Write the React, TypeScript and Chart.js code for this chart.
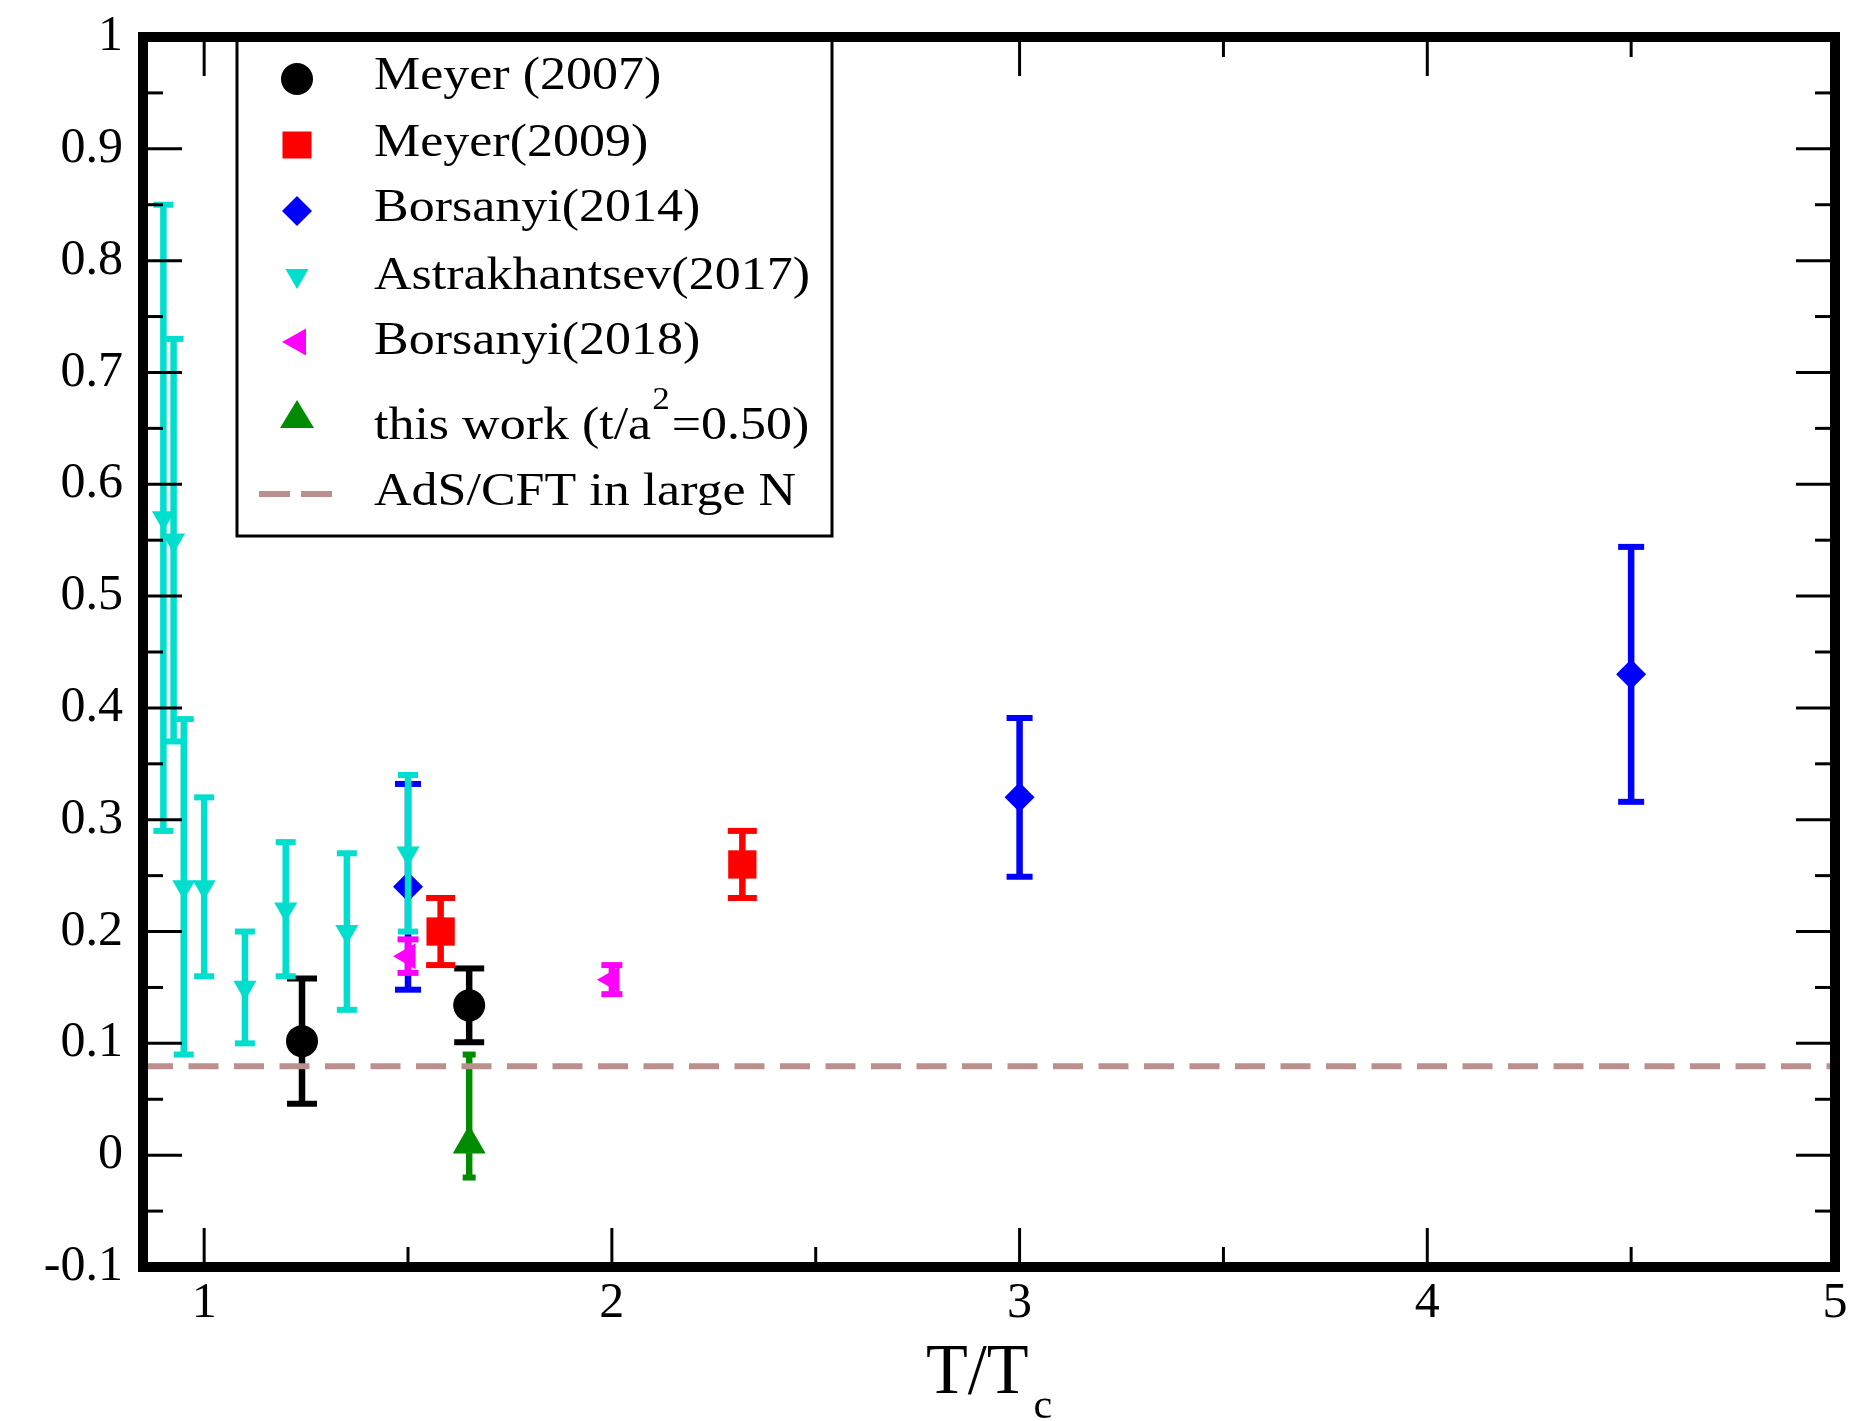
import React, { useEffect, useRef } from 'react';
import { Chart, registerables } from 'chart.js';

Chart.register(...registerables);

const FONT = '"Liberation Serif", "Times New Roman", serif';

// ---- data ----
const meyer2007X = [1.24, 1.65];
const meyer2007Y = [0.102, 0.134];
const meyer2007Err = [0.056, 0.033];

const meyer2009X = [1.58, 2.32];
const meyer2009Y = [0.2, 0.26];
const meyer2009Err = [0.03, 0.03];

const borsanyi2014X = [1.5, 3.0, 4.5];
const borsanyi2014Y = [0.24, 0.32, 0.43];
const borsanyi2014Err = [0.092, 0.071, 0.114];

const astrakhantsevX = [0.9, 0.925, 0.95, 1.0, 1.1, 1.2, 1.35, 1.5];
const astrakhantsevY = [0.57, 0.55, 0.24, 0.24, 0.15, 0.22, 0.2, 0.27];
const astrakhantsevErr = [0.28, 0.18, 0.15, 0.08, 0.05, 0.06, 0.07, 0.07];

const borsanyi2018X = [1.5, 2.0];
const borsanyi2018Y = [0.178, 0.157];
const borsanyi2018Err = [0.015, 0.013];

const thisWorkX = [1.65];
const thisWorkY = [0.01];
const thisWorkErrUp = [0.08];
const thisWorkErrDown = [0.03];

const adsValue = 0.0796;
const adsRange = [0.85, 5];

const xTicks = [1, 1.5, 2, 2.5, 3, 3.5, 4, 4.5, 5];
const yTicks = [
  -0.1, -0.05, 0, 0.05, 0.1, 0.15, 0.2, 0.25, 0.3, 0.35, 0.4, 0.45, 0.5,
  0.55, 0.6, 0.65, 0.7, 0.75, 0.8, 0.85, 0.9, 0.95, 1,
];

const legendLabels = [
  'Meyer (2007)',
  'Meyer(2009)',
  'Borsanyi(2014)',
  'Astrakhantsev(2017)',
  'Borsanyi(2018)',
  'this work (t/a',
  'AdS/CFT in large N',
];

const CYAN = 'rgb(0,222,205)';
const GREEN = 'rgb(0,139,0)';
const ADS_COLOR = '#BC8F8F';

function pts(xs: number[], ys: number[]) {
  return xs.map((x, i) => ({ x, y: ys[i] }));
}

function drawText(ctx: CanvasRenderingContext2D, text: string, x: number, y: number, size: number, sx: number) {
  ctx.save();
  ctx.font = `${size}px ${FONT}`;
  ctx.textBaseline = 'alphabetic';
  ctx.textAlign = 'left';
  ctx.translate(x, y);
  ctx.scale(sx, 1);
  ctx.fillText(text, 0, 0);
  const w = ctx.measureText(text).width * sx;
  ctx.restore();
  return w;
}

function line(ctx: CanvasRenderingContext2D, x1: number, y1: number, x2: number, y2: number) {
  ctx.beginPath();
  ctx.moveTo(x1, y1);
  ctx.lineTo(x2, y2);
  ctx.stroke();
}

function tri(ctx: CanvasRenderingContext2D, cx: number, cy: number, w: number, h: number, dir: string, color: string) {
  ctx.fillStyle = color;
  ctx.beginPath();
  if (dir === 'up') {
    ctx.moveTo(cx, cy - h / 2);
    ctx.lineTo(cx + w / 2, cy + h / 2);
    ctx.lineTo(cx - w / 2, cy + h / 2);
  } else if (dir === 'down') {
    ctx.moveTo(cx, cy + h / 2);
    ctx.lineTo(cx + w / 2, cy - h / 2);
    ctx.lineTo(cx - w / 2, cy - h / 2);
  } else {
    ctx.moveTo(cx - w / 2, cy);
    ctx.lineTo(cx + w / 2, cy - h / 2);
    ctx.lineTo(cx + w / 2, cy + h / 2);
  }
  ctx.closePath();
  ctx.fill();
}

const customPlugin = {
  id: 'xmgraceStyle',
  beforeDraw(chart: any) {
    const ctx = chart.ctx;
    ctx.save();
    ctx.fillStyle = '#ffffff';
    ctx.fillRect(0, 0, chart.width, chart.height);
    ctx.restore();
  },
  beforeDatasetDraw(chart: any, args: any) {
    const ds = chart.data.datasets[args.index];
    if (!ds.errUp) return;
    const ctx = chart.ctx;
    const a = chart.chartArea;
    const xs = chart.scales.x;
    const ys = chart.scales.y;
    ctx.save();
    ctx.beginPath();
    ctx.rect(a.left, a.top, a.right - a.left, a.bottom - a.top);
    ctx.clip();
    ctx.strokeStyle = ds.errColor;
    ctx.lineCap = 'butt';
    ds.data.forEach((p: any, i: number) => {
      const px = xs.getPixelForValue(p.x);
      const top = ys.getPixelForValue(p.y + ds.errUp[i]);
      const bot = ys.getPixelForValue(p.y - ds.errDown[i]);
      ctx.lineWidth = 6.5;
      line(ctx, px, top, px, bot);
      ctx.lineWidth = 6;
      line(ctx, px - ds.capHalf, top, px + ds.capHalf, top);
      line(ctx, px - ds.capHalf, bot, px + ds.capHalf, bot);
    });
    ctx.restore();
  },
  afterDatasetsDraw(chart: any) {
    const ctx = chart.ctx as CanvasRenderingContext2D;
    const a = chart.chartArea;
    const xs = chart.scales.x;
    const ys = chart.scales.y;
    ctx.save();
    ctx.strokeStyle = '#000';
    ctx.lineWidth = 3;
    xTicks.forEach((v) => {
      const px = xs.getPixelForValue(v);
      const L = Number.isInteger(v) ? 39 : 20;
      line(ctx, px, a.bottom, px, a.bottom - L);
      line(ctx, px, a.top, px, a.top + L);
    });
    yTicks.forEach((v) => {
      const py = ys.getPixelForValue(v);
      const major = Math.abs(Math.round(v * 10) - v * 10) < 1e-6;
      const L = major ? 39 : 20;
      line(ctx, a.left, py, a.left + L, py);
      line(ctx, a.right, py, a.right - L, py);
    });
    ctx.lineWidth = 10;
    ctx.strokeRect(a.left, a.top, a.right - a.left, a.bottom - a.top);

    // legend
    const lx = a.left + 94;
    const lr = a.left + 689;
    const lb = a.top + 499;
    ctx.fillStyle = '#fff';
    ctx.fillRect(lx, a.top + 5, lr - lx, lb - a.top - 5);
    ctx.lineWidth = 3;
    ctx.strokeRect(lx, a.top, lr - lx, lb - a.top);

    const sx = a.left + 154;
    const tx = a.left + 231;
    const symY = [79, 145, 211, 279, 342, 414, 494].map((v) => v - 37 + a.top);
    const baseY = [89, 156, 221, 289, 354, 439, 505].map((v) => v - 37 + a.top);

    ctx.fillStyle = '#000';
    ctx.beginPath();
    ctx.arc(sx, symY[0], 16, 0, Math.PI * 2);
    ctx.fill();
    ctx.fillStyle = '#ff0000';
    ctx.fillRect(sx - 14.5, symY[1] - 13.5, 29, 27);
    ctx.fillStyle = '#0000ff';
    ctx.beginPath();
    ctx.moveTo(sx, symY[2] - 15);
    ctx.lineTo(sx + 15, symY[2]);
    ctx.lineTo(sx, symY[2] + 15);
    ctx.lineTo(sx - 15, symY[2]);
    ctx.closePath();
    ctx.fill();
    tri(ctx, sx, symY[3], 23, 20, 'down', CYAN);
    tri(ctx, sx - 3, symY[4], 24, 27, 'left', '#ff00ff');
    tri(ctx, sx, symY[5], 34, 28, 'up', GREEN);
    ctx.strokeStyle = ADS_COLOR;
    ctx.lineWidth = 6;
    ctx.setLineDash([31, 11]);
    line(ctx, sx - 38, symY[6], sx + 37, symY[6]);
    ctx.setLineDash([]);

    ctx.fillStyle = '#000';
    const LS = 46;
    const LX = 1.13;
    legendLabels.forEach((t, i) => {
      const w = drawText(ctx, t, tx, baseY[i], LS, LX);
      if (i === 5) {
        const w2 = drawText(ctx, '2', tx + w + 1, baseY[i] - 30, 31, LX);
        drawText(ctx, '=0.50)', tx + w + w2 + 3, baseY[i], LS, LX);
      }
    });

    // x-axis title T/T_c
    const cx = (a.left + a.right) / 2;
    ctx.save();
    ctx.font = `72px ${FONT}`;
    const wT = ctx.measureText('T/T').width * 0.95;
    ctx.font = `42px ${FONT}`;
    const wc = ctx.measureText('c').width;
    ctx.restore();
    const start = cx - (wT + 5 + wc) / 2;
    drawText(ctx, 'T/T', start, a.bottom + 126, 72, 0.95);
    drawText(ctx, 'c', start + wT + 5, a.bottom + 151, 42, 1);
    ctx.restore();
  },
};

export default function App() {
  const ref = useRef<HTMLCanvasElement>(null);

  useEffect(() => {
    document.body.style.margin = '0';
    document.body.style.overflow = 'hidden';
    const canvas = ref.current;
    if (!canvas) return;

    const sets = [
      { label: legendLabels[0], x: meyer2007X, y: meyer2007Y, up: meyer2007Err, dn: meyer2007Err, color: '#000000', style: 'circle', r: 16, rot: 0, cap: 15 },
      { label: legendLabels[1], x: meyer2009X, y: meyer2009Y, up: meyer2009Err, dn: meyer2009Err, color: '#ff0000', style: 'rect', r: 20, rot: 0, cap: 14.5 },
      { label: legendLabels[2], x: borsanyi2014X, y: borsanyi2014Y, up: borsanyi2014Err, dn: borsanyi2014Err, color: '#0000ff', style: 'rectRot', r: 15, rot: 0, cap: 13 },
      { label: legendLabels[3], x: astrakhantsevX, y: astrakhantsevY, up: astrakhantsevErr, dn: astrakhantsevErr, color: CYAN, style: 'triangle', r: 13.3, rot: 180, cap: 10 },
      { label: legendLabels[4], x: borsanyi2018X, y: borsanyi2018Y, up: borsanyi2018Err, dn: borsanyi2018Err, color: '#ff00ff', style: 'triangle', r: 15, rot: 270, cap: 10.5 },
      { label: legendLabels[5], x: thisWorkX, y: thisWorkY, up: thisWorkErrUp, dn: thisWorkErrDown, color: GREEN, style: 'triangle', r: 19, rot: 0, cap: 6.5 },
    ];

    const datasets: any[] = sets.map((s, i) => ({
      label: s.label,
      data: pts(s.x, s.y),
      errUp: s.up,
      errDown: s.dn,
      errColor: s.color,
      capHalf: s.cap,
      pointStyle: s.style,
      pointRadius: s.r,
      pointHoverRadius: s.r,
      pointRotation: s.rot,
      backgroundColor: s.color,
      borderColor: s.color,
      pointBorderWidth: 0,
      borderWidth: 0,
      showLine: false,
      order: 10 - i,
    }));

    datasets.push({
      label: legendLabels[6],
      data: adsRange.map((x) => ({ x, y: adsValue })),
      showLine: true,
      borderColor: ADS_COLOR,
      backgroundColor: ADS_COLOR,
      borderWidth: 6,
      borderDash: [30, 15.5],
      pointRadius: 0,
      pointHoverRadius: 0,
      fill: false,
      order: 1,
    });

    const chart = new Chart(canvas, {
      type: 'scatter',
      data: { datasets },
      options: {
        responsive: false,
        animation: false,
        events: [],
        layout: { autoPadding: false, padding: { left: 0, right: 14, top: 37, bottom: 0 } },
        plugins: {
          legend: { display: false },
          tooltip: { enabled: false },
        },
        scales: {
          x: {
            type: 'linear',
            min: 0.85,
            max: 5,
            afterBuildTicks: (s: any) => {
              s.ticks = xTicks.map((v) => ({ value: v }));
            },
            afterFit: (s: any) => {
              s.height = 154;
              s.paddingLeft = 0;
              s.paddingRight = 0;
              s.paddingTop = 0;
              s.paddingBottom = 0;
            },
            grid: { display: false, drawTicks: false },
            border: { display: false },
            ticks: {
              autoSkip: false,
              maxRotation: 0,
              padding: 12,
              color: '#000',
              font: { family: FONT, size: 50, lineHeight: 1 },
              callback: (v: any) => (Number.isInteger(v) ? String(v) : ''),
            },
          },
          y: {
            type: 'linear',
            min: -0.1,
            max: 1,
            afterBuildTicks: (s: any) => {
              s.ticks = yTicks.map((v) => ({ value: v }));
            },
            afterFit: (s: any) => {
              s.width = 143;
              s.paddingLeft = 0;
              s.paddingRight = 0;
              s.paddingTop = 0;
              s.paddingBottom = 0;
            },
            grid: { display: false, drawTicks: false },
            border: { display: false },
            ticks: {
              autoSkip: false,
              padding: 20,
              color: '#000',
              font: { family: FONT, size: 50, lineHeight: 1 },
              callback: (v: any) => {
                const r = Math.round(v * 100);
                if (r % 10 !== 0) return '';
                const t = Math.round(v * 10) / 10;
                return t === 0 ? '0' : String(t);
              },
            },
          },
        },
      } as any,
      plugins: [customPlugin as any],
    });

    return () => chart.destroy();
  }, []);

  return (
    <div style={{ position: 'absolute', left: 0, top: 0, width: 1849, height: 1421, background: '#fff' }}>
      <canvas ref={ref} width={1849} height={1421} style={{ width: 1849, height: 1421, display: 'block' }} />
    </div>
  );
}
